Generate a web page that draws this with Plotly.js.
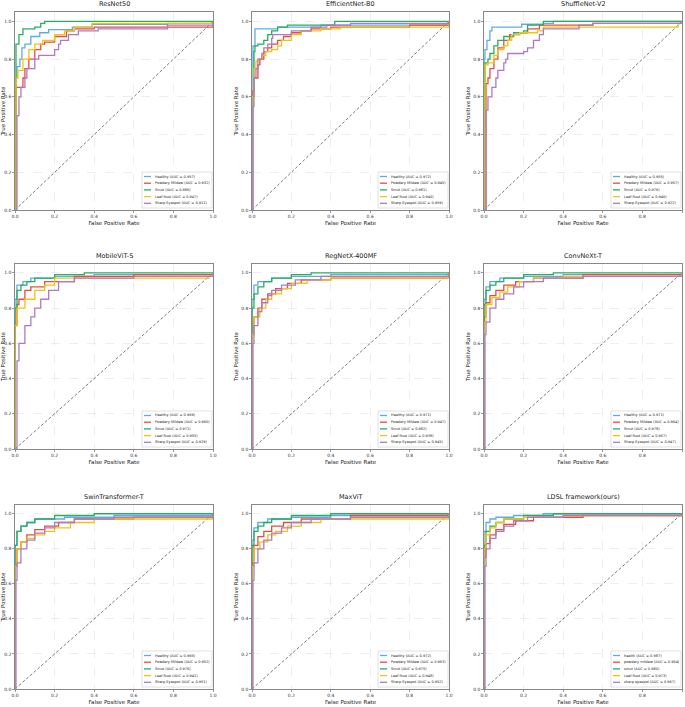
<!DOCTYPE html>
<html>
<head>
<meta charset="utf-8">
<script src="https://cdn.plot.ly/plotly-3.0.1.min.js"></script>
<style>html,body{margin:0;padding:0;background:#fff}#chart{width:685px;height:707px}</style>
</head>
<body>
<div id="chart"></div>
<script>
// ---------- data ----------
const MODELS = ['ResNet50','EfficientNet-B0','ShuffleNet-V2','MobileViT-S','RegNetX-400MF','ConvNeXt-T','SwinTransformer-T','MaxViT','LDSL framework(ours)'];
const CLASSES = ['Healthy','Powdery Mildew','Smut','Leaf Rust','Sharp Eyespot'];
const CLASSES_OURS = ['health','powdery mildew','smut','Leaf Rust','sharp eyespot'];
const TICKS = [0,0.2,0.4,0.6,0.8,1.0];
const TICK_LABELS = ['0.0','0.2','0.4','0.6','0.8','1.0'];

const AUC_RESNET50 = [0.957,0.932,0.986,0.947,0.911];
const AUC_EFFICIENTNET = [0.972,0.945,0.981,0.940,0.959];
const AUC_SHUFFLENET = [0.955,0.957,0.976,0.946,0.922];
const AUC_MOBILEVIT = [0.969,0.960,0.971,0.955,0.929];
const AUC_REGNET = [0.971,0.947,0.982,0.938,0.945];
const AUC_CONVNEXT = [0.971,0.964,0.978,0.957,0.947];
const AUC_SWIN = [0.966,0.952,0.976,0.941,0.951];
const AUC_MAXVIT = [0.972,0.963,0.975,0.948,0.952];
const AUC_OURS = [0.987,0.964,0.980,0.973,0.967];

// ROC step points [fpr, tpr]
const RESNET50_HEALTHY = [[0,0],[0,0.70],[0.01,0.76],[0.025,0.80],[0.035,0.86],[0.05,0.88],[0.08,0.92],[0.125,0.94],[0.17,0.957],[0.29,0.97],[0.39,0.985],[0.77,0.99],[1,1]];
const RESNET50_POWDERY = [[0,0],[0.005,0.65],[0.03,0.65],[0.04,0.70],[0.05,0.75],[0.07,0.80],[0.10,0.85],[0.13,0.88],[0.15,0.89],[0.20,0.92],[0.26,0.95],[0.30,0.96],[0.40,0.97],[0.90,0.97],[1,1]];
const RESNET50_SMUT = [[0,0],[0.005,0.88],[0.02,0.93],[0.04,0.96],[0.10,0.97],[0.13,0.99],[0.15,1.0],[1,1]];
const RESNET50_LEAFRUST = [[0,0],[0.005,0.70],[0.015,0.74],[0.04,0.80],[0.07,0.85],[0.10,0.88],[0.14,0.90],[0.20,0.93],[0.25,0.95],[0.30,0.97],[0.39,0.99],[1,1]];
const RESNET50_EYESPOT = [[0,0],[0.01,0.50],[0.02,0.60],[0.03,0.65],[0.05,0.70],[0.06,0.75],[0.10,0.80],[0.12,0.82],[0.20,0.85],[0.22,0.88],[0.23,0.90],[0.27,0.93],[0.32,0.95],[0.42,0.96],[0.77,0.98],[1,1]];

const EFFNET_HEALTHY = [[0,0],[0.005,0.87],[0.015,0.96],[0.13,0.97],[0.35,0.98],[1,1]];
const EFFNET_POWDERY = [[0,0],[0,0.63],[0.01,0.70],[0.03,0.77],[0.04,0.80],[0.06,0.84],[0.08,0.86],[0.10,0.88],[0.13,0.90],[0.16,0.92],[0.20,0.94],[0.25,0.95],[0.30,0.96],[0.40,0.97],[0.80,0.98],[1,1]];
const EFFNET_SMUT = [[0,0],[0,0.60],[0.01,0.84],[0.015,0.87],[0.03,0.88],[0.06,0.90],[0.08,0.93],[0.10,0.95],[0.13,0.97],[0.18,0.98],[0.42,1.0],[1,1]];
const EFFNET_LEAFRUST = [[0,0],[0,0.60],[0.01,0.75],[0.02,0.79],[0.03,0.80],[0.05,0.82],[0.07,0.84],[0.10,0.85],[0.13,0.87],[0.15,0.90],[0.20,0.93],[0.25,0.95],[0.35,0.96],[0.45,0.97],[1,1]];
const EFFNET_EYESPOT = [[0,0],[0.005,0.55],[0.01,0.70],[0.02,0.75],[0.03,0.80],[0.05,0.83],[0.06,0.86],[0.08,0.88],[0.10,0.91],[0.105,0.93],[0.20,0.95],[0.30,0.97],[0.38,0.98],[0.50,0.99],[1,1]];

const SHUFFLE_HEALTHY = [[0,0],[0,0.80],[0.005,0.85],[0.015,0.90],[0.03,0.95],[0.04,0.97],[0.19,0.985],[0.30,0.99],[0.35,1.0],[1,1]];
const SHUFFLE_POWDERY = [[0,0],[0.01,0.67],[0.02,0.70],[0.03,0.75],[0.05,0.80],[0.07,0.86],[0.10,0.90],[0.13,0.93],[0.18,0.94],[0.22,0.96],[0.28,0.98],[0.55,0.99],[1,1]];
const SHUFFLE_SMUT = [[0,0],[0.005,0.78],[0.02,0.80],[0.03,0.83],[0.05,0.87],[0.07,0.90],[0.10,0.92],[0.15,0.94],[0.20,0.95],[0.22,0.98],[0.30,1.0],[1,1]];
const SHUFFLE_LEAFRUST = [[0,0],[0.005,0.77],[0.02,0.78],[0.05,0.82],[0.07,0.85],[0.10,0.87],[0.12,0.90],[0.14,0.93],[0.18,0.94],[0.27,0.95],[0.30,0.97],[0.98,0.99],[1,1]];
const SHUFFLE_EYESPOT = [[0,0],[0.01,0.53],[0.02,0.60],[0.04,0.65],[0.06,0.70],[0.07,0.74],[0.10,0.78],[0.11,0.80],[0.12,0.83],[0.20,0.84],[0.22,0.86],[0.25,0.90],[0.28,0.93],[0.30,0.96],[0.48,0.98],[0.55,0.99],[1,1]];

const MOBILEVIT_HEALTHY = [[0,0],[0,0.85],[0.01,0.93],[0.04,0.95],[0.08,0.97],[0.20,0.98],[0.40,0.99],[1,1]];
const MOBILEVIT_POWDERY = [[0,0],[0,0.70],[0.01,0.82],[0.02,0.85],[0.05,0.90],[0.08,0.92],[0.15,0.95],[0.30,0.98],[0.60,0.99],[1,1]];
const MOBILEVIT_SMUT = [[0,0],[0,0.80],[0.01,0.90],[0.03,0.93],[0.06,0.95],[0.10,0.97],[0.20,0.99],[0.35,1.0],[1,1]];
const MOBILEVIT_LEAFRUST = [[0,0],[0,0.70],[0.01,0.80],[0.05,0.85],[0.10,0.90],[0.15,0.93],[0.20,0.97],[0.98,0.98],[1,1]];
const MOBILEVIT_EYESPOT = [[0,0],[0.01,0.50],[0.02,0.60],[0.05,0.70],[0.08,0.75],[0.10,0.80],[0.13,0.85],[0.17,0.90],[0.22,0.95],[0.30,0.97],[0.60,0.98],[1,1]];

const REGNET_HEALTHY = [[0,0],[0,0.85],[0.01,0.93],[0.03,0.95],[0.10,0.97],[0.20,0.98],[0.40,0.99],[1,1]];
const REGNET_POWDERY = [[0,0],[0,0.65],[0.01,0.75],[0.03,0.80],[0.05,0.85],[0.08,0.88],[0.12,0.91],[0.18,0.94],[0.25,0.96],[0.40,0.97],[1,1]];
const REGNET_SMUT = [[0,0],[0,0.80],[0.01,0.88],[0.03,0.92],[0.06,0.95],[0.10,0.97],[0.20,0.99],[0.30,1.0],[1,1]];
const REGNET_LEAFRUST = [[0,0],[0,0.65],[0.01,0.75],[0.04,0.80],[0.07,0.85],[0.10,0.88],[0.15,0.91],[0.20,0.94],[0.28,0.96],[0.40,0.97],[1,1]];
const REGNET_EYESPOT = [[0,0],[0.005,0.60],[0.01,0.70],[0.03,0.78],[0.05,0.83],[0.08,0.87],[0.10,0.90],[0.15,0.93],[0.22,0.96],[0.35,0.98],[1,1]];

const CONVNEXT_HEALTHY = [[0,0],[0,0.85],[0.01,0.92],[0.03,0.95],[0.08,0.97],[0.20,0.98],[0.40,0.99],[1,1]];
const CONVNEXT_POWDERY = [[0,0],[0,0.75],[0.01,0.83],[0.03,0.87],[0.06,0.90],[0.10,0.93],[0.16,0.95],[0.25,0.97],[0.50,0.99],[1,1]];
const CONVNEXT_SMUT = [[0,0],[0,0.82],[0.01,0.90],[0.03,0.93],[0.06,0.95],[0.10,0.97],[0.20,0.99],[0.35,1.0],[1,1]];
const CONVNEXT_LEAFRUST = [[0,0],[0,0.72],[0.01,0.82],[0.04,0.86],[0.08,0.89],[0.12,0.92],[0.18,0.95],[0.25,0.97],[0.40,0.98],[1,1]];
const CONVNEXT_EYESPOT = [[0,0],[0.005,0.65],[0.01,0.72],[0.03,0.80],[0.06,0.85],[0.10,0.88],[0.15,0.92],[0.20,0.95],[0.30,0.97],[0.50,0.98],[1,1]];

const SWIN_HEALTHY = [[0,0],[0,0.82],[0.01,0.90],[0.03,0.93],[0.06,0.95],[0.10,0.97],[0.25,0.98],[0.50,0.99],[1,1]];
const SWIN_POWDERY = [[0,0],[0,0.70],[0.01,0.80],[0.03,0.84],[0.06,0.88],[0.10,0.91],[0.15,0.93],[0.22,0.95],[0.30,0.97],[0.60,0.98],[1,1]];
const SWIN_SMUT = [[0,0],[0,0.82],[0.01,0.90],[0.03,0.93],[0.06,0.95],[0.10,0.97],[0.20,0.99],[0.40,1.0],[1,1]];
const SWIN_LEAFRUST = [[0,0],[0,0.70],[0.01,0.80],[0.03,0.84],[0.06,0.86],[0.10,0.88],[0.15,0.90],[0.20,0.92],[0.28,0.95],[0.40,0.97],[1,1]];
const SWIN_EYESPOT = [[0,0],[0.005,0.62],[0.01,0.72],[0.03,0.80],[0.06,0.85],[0.10,0.89],[0.15,0.92],[0.20,0.95],[0.30,0.97],[0.50,0.98],[1,1]];

const MAXVIT_HEALTHY = [[0,0],[0,0.85],[0.01,0.92],[0.03,0.95],[0.08,0.97],[0.20,0.98],[0.40,0.99],[1,1]];
const MAXVIT_POWDERY = [[0,0],[0,0.72],[0.01,0.82],[0.03,0.87],[0.06,0.90],[0.10,0.93],[0.16,0.95],[0.25,0.97],[0.50,0.99],[1,1]];
const MAXVIT_SMUT = [[0,0],[0,0.82],[0.01,0.90],[0.03,0.93],[0.06,0.95],[0.10,0.97],[0.20,0.99],[0.40,1.0],[1,1]];
const MAXVIT_LEAFRUST = [[0,0],[0,0.70],[0.01,0.80],[0.04,0.84],[0.08,0.88],[0.12,0.90],[0.18,0.93],[0.25,0.95],[0.35,0.97],[1,1]];
const MAXVIT_EYESPOT = [[0,0],[0.005,0.62],[0.01,0.72],[0.03,0.80],[0.06,0.85],[0.10,0.89],[0.15,0.92],[0.20,0.95],[0.30,0.97],[0.50,0.98],[1,1]];

const OURS_HEALTHY = [[0,0],[0,0.90],[0.01,0.95],[0.03,0.97],[0.06,0.98],[0.15,0.99],[0.30,1.0],[1,1]];
const OURS_POWDERY = [[0,0],[0,0.75],[0.01,0.83],[0.03,0.88],[0.06,0.91],[0.10,0.94],[0.16,0.96],[0.25,0.98],[0.50,0.99],[1,1]];
const OURS_SMUT = [[0,0],[0,0.82],[0.01,0.90],[0.03,0.93],[0.06,0.95],[0.10,0.97],[0.20,0.99],[0.35,1.0],[1,1]];
const OURS_LEAFRUST = [[0,0],[0,0.80],[0.01,0.88],[0.03,0.92],[0.06,0.95],[0.10,0.97],[0.20,0.98],[0.40,0.99],[1,1]];
const OURS_EYESPOT = [[0,0],[0.005,0.70],[0.01,0.80],[0.03,0.86],[0.06,0.90],[0.10,0.93],[0.15,0.96],[0.22,0.98],[0.40,0.99],[1,1]];

const CURVES = [
  [RESNET50_HEALTHY,RESNET50_POWDERY,RESNET50_SMUT,RESNET50_LEAFRUST,RESNET50_EYESPOT],
  [EFFNET_HEALTHY,EFFNET_POWDERY,EFFNET_SMUT,EFFNET_LEAFRUST,EFFNET_EYESPOT],
  [SHUFFLE_HEALTHY,SHUFFLE_POWDERY,SHUFFLE_SMUT,SHUFFLE_LEAFRUST,SHUFFLE_EYESPOT],
  [MOBILEVIT_HEALTHY,MOBILEVIT_POWDERY,MOBILEVIT_SMUT,MOBILEVIT_LEAFRUST,MOBILEVIT_EYESPOT],
  [REGNET_HEALTHY,REGNET_POWDERY,REGNET_SMUT,REGNET_LEAFRUST,REGNET_EYESPOT],
  [CONVNEXT_HEALTHY,CONVNEXT_POWDERY,CONVNEXT_SMUT,CONVNEXT_LEAFRUST,CONVNEXT_EYESPOT],
  [SWIN_HEALTHY,SWIN_POWDERY,SWIN_SMUT,SWIN_LEAFRUST,SWIN_EYESPOT],
  [MAXVIT_HEALTHY,MAXVIT_POWDERY,MAXVIT_SMUT,MAXVIT_LEAFRUST,MAXVIT_EYESPOT],
  [OURS_HEALTHY,OURS_POWDERY,OURS_SMUT,OURS_LEAFRUST,OURS_EYESPOT]
];
const AUCS = [AUC_RESNET50,AUC_EFFICIENTNET,AUC_SHUFFLENET,AUC_MOBILEVIT,AUC_REGNET,AUC_CONVNEXT,AUC_SWIN,AUC_MAXVIT,AUC_OURS];

// ---------- style ----------
const COLORS = ['#5dade2','#e74c3c','#27ae60','#f1c40f','#af7ac5'];
const W = 685, H = 707;
const COLS = [[15,213],[252,449],[484,682]];
const ROWS = [[12,210],[264,449],[505,689]];
const FONT = 'DejaVu Sans, Arial, sans-serif';
// legend box (pixels, relative to plot's bottom-right corner)
const LEG = {w: 70, h: 36, right: 1, bottom: 2, rowGap: 6.7, firstRow: 4.5, lineX0: 2, lineX1: 9, textX: 10.5};

const data = [];
const layout = {
  width: W, height: H,
  margin: {l:0,r:0,t:0,b:0},
  paper_bgcolor: '#fff', plot_bgcolor: '#fff',
  font: {family: FONT, size: 5, color: '#222'},
  annotations: [], shapes: [],
  showlegend: false
};

MODELS.forEach((m, i) => {
  const r = Math.floor(i/3), c = i%3;
  const xa = 'x' + (i+1), ya = 'y' + (i+1);
  const names = i === 8 ? CLASSES_OURS : CLASSES;
  const pw = COLS[c][1] - COLS[c][0], ph = ROWS[r][1] - ROWS[r][0];
  const xref = xa + ' domain', yref = ya + ' domain';

  data.push({
    x: [0,1], y: [0,1], type: 'scatter', mode: 'lines',
    line: {color: '#222', width: 0.6, dash: '3px,2px'},
    showlegend: false, xaxis: xa, yaxis: ya, hoverinfo: 'skip'
  });
  CURVES[i].forEach((pts, j) => {
    data.push({
      x: pts.map(p => p[0]), y: pts.map(p => p[1]),
      type: 'scatter', mode: 'lines',
      line: {shape: 'hv', color: COLORS[j], width: 1.3},
      name: names[j] + ' (AUC = ' + AUCS[i][j].toFixed(3) + ')',
      xaxis: xa, yaxis: ya, hoverinfo: 'skip'
    });
  });

  const xd = [COLS[c][0]/W, COLS[c][1]/W];
  const yd = [1 - ROWS[r][1]/H, 1 - ROWS[r][0]/H];
  const axBase = {
    showline: true, mirror: true, linecolor: '#555', linewidth: 0.7,
    showgrid: true, gridcolor: '#dedede', griddash: 'dash', gridwidth: 0.5,
    zeroline: false, ticks: 'outside', ticklen: 2, tickwidth: 0.6, tickcolor: '#555',
    tickvals: TICKS, ticktext: TICK_LABELS, tickfont: {size: 4.5, family: FONT, color: '#333'}
  };
  layout['xaxis' + (i+1)] = Object.assign({}, axBase, {
    domain: xd, range: [0, 1], anchor: ya,
    title: {text: 'False Positive Rate', font: {size: 5.5, family: FONT, color: '#222'}, standoff: 2}
  });
  layout['yaxis' + (i+1)] = Object.assign({}, axBase, {
    domain: yd, range: [0, 1.05], anchor: xa,
    title: {text: 'True Positive Rate', font: {size: 5.5, family: FONT, color: '#222'}, standoff: 2}
  });

  // legend (drawn with shapes + annotations, in axis-domain coordinates)
  const bx1 = 1 - LEG.right/pw, bx0 = bx1 - LEG.w/pw;
  const by0 = LEG.bottom/ph, by1 = by0 + LEG.h/ph;
  layout.shapes.push({type: 'rect', xref, yref, x0: bx0, x1: bx1, y0: by0, y1: by1,
    line: {color: '#cccccc', width: 0.6}, fillcolor: 'rgba(255,255,255,0.9)', layer: 'above'});
  names.forEach((nm, j) => {
    const yy = by1 - (LEG.firstRow + j*LEG.rowGap)/ph;
    layout.shapes.push({type: 'line', xref, yref,
      x0: bx0 + LEG.lineX0/pw, x1: bx0 + LEG.lineX1/pw, y0: yy, y1: yy,
      line: {color: COLORS[j], width: 1.3}, layer: 'above'});
    layout.annotations.push({text: nm + ' (AUC = ' + AUCS[i][j].toFixed(3) + ')',
      xref, yref, x: bx0 + LEG.textX/pw, y: yy, xanchor: 'left', yanchor: 'middle',
      showarrow: false, font: {size: 3.5, family: FONT, color: '#222'}});
  });

  layout.annotations.push({
    text: m, xref, yref, x: 0.5, y: 1, xanchor: 'center', yanchor: 'bottom',
    yshift: 2, showarrow: false, font: {size: 6.5, family: FONT, color: '#222'}
  });
});

Plotly.newPlot('chart', data, layout, {staticPlot: true, displayModeBar: false});
</script>
</body>
</html>
